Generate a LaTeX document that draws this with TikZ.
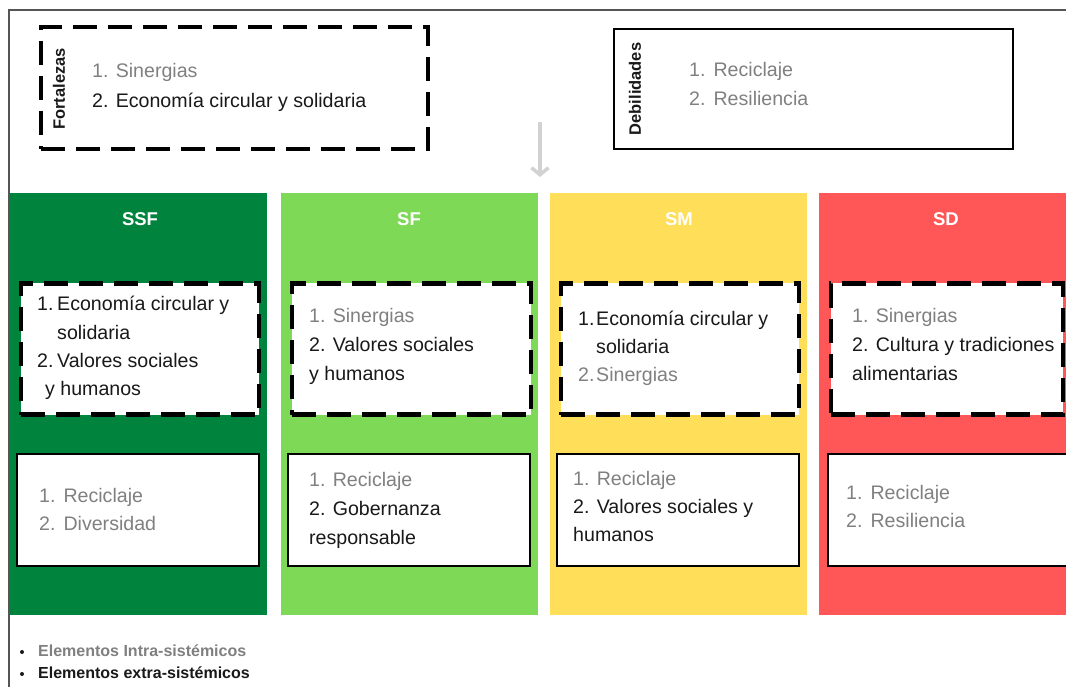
\documentclass[tikz,border=0pt]{standalone}
\usepackage{fontspec}
\setmainfont{Liberation Sans}
\usetikzlibrary{arrows.meta}
\definecolor{cSSF}{RGB}{0,132,61}
\definecolor{cSF}{RGB}{126,217,87}
\definecolor{cSM}{RGB}{255,222,89}
\definecolor{cSD}{RGB}{255,87,87}
\definecolor{intra}{RGB}{128,128,128}
\definecolor{extra}{RGB}{25,25,25}
\definecolor{framec}{RGB}{85,85,85}
\definecolor{arrowc}{RGB}{210,210,210}
\begin{document}
\begin{tikzpicture}[x=1pt,y=-1pt,
  txt/.style={anchor=base west, inner sep=0pt, font=\fontsize{19.6}{23}\selectfont},
  gr/.style={txt, text=intra},
  bk/.style={txt, text=extra},
  dbox/.style={draw=black, line width=4.5pt, dash pattern=on 24pt off 11pt, fill=white, inner sep=0pt},
  sbox/.style={draw=black, line width=2.5pt, fill=white, inner sep=0pt},
  col/.style={draw=none, inner sep=0pt, minimum width=257pt, minimum height=422pt},
  ttl/.style={text=white, font=\bfseries\fontsize{18.5}{22}\selectfont, inner sep=0pt},
  vlab/.style={rotate=90, font=\bfseries\fontsize{16.5}{18}\selectfont, inner sep=0pt, text=extra},
  leg/.style={anchor=base west, inner sep=0pt, font=\bfseries\fontsize{16}{18}\selectfont},
  bul/.style={circle, fill=extra, inner sep=0pt, minimum size=4pt},
  arrowst/.style={draw=arrowc, line width=4pt, -{Straight Barb[length=7pt,width=17pt,line width=3.5pt]}},
  ]
\useasboundingbox (0,0) rectangle (1066,687);
\begin{scope}
\clip (0,0) rectangle (1066,687);
\fill[white] (0,0) rectangle (1066,687);
% frame
\draw[framec, line width=1.3pt] (9,690) -- (9,10) -- (1070,10);

% top boxes
\node[dbox, minimum width=387pt, minimum height=122pt] (fort) at (234.5,88) {};
\node[vlab] (fortlab) at (59,89) {Fortalezas};
\node[gr] (f1) at (92,78) {1. Sinergias};
\node[bk] (f2) at (92,108) {2. Economía circular y solidaria};

\node[sbox, minimum width=399pt, minimum height=120pt] (deb) at (813.5,89) {};
\node[vlab] (deblab) at (635,89) {Debilidades};
\node[gr] (d1) at (689,77) {1.\hspace{8pt}Reciclaje};
\node[gr] (d2) at (689,106) {2.\hspace{8pt}Resiliencia};

% arrow
\coordinate (arrS) at (540,122);
\coordinate (arrE) at (540,177);
\draw[arrowst] (arrS) -- (arrE);

% columns
\node[col, fill=cSSF] (cssf) at (138.5,404) {};
\node[col, fill=cSF]  (csf)  at (409,404) {};
\node[col, fill=cSM]  (csm)  at (678.5,404) {};
\node[col, fill=cSD]  (csd)  at (947.5,404) {};
\node[ttl] (tssf) at (140,219) {SSF};
\node[ttl] (tsf)  at (409,219) {SF};
\node[ttl] (tsm)  at (679,219) {SM};
\node[ttl] (tsd)  at (946,219) {SD};

% dashed boxes in columns
\node[dbox, minimum width=238pt, minimum height=131pt] (dssf) at (140,349) {};
\node[dbox, minimum width=239pt, minimum height=131pt] (dsf)  at (411.5,349) {};
\node[dbox, minimum width=238pt, minimum height=131pt] (dsm)  at (680,349) {};
\node[dbox, minimum width=232pt, minimum height=131pt] (dsd)  at (947,349) {};

% solid boxes in columns
\node[sbox, minimum width=242pt, minimum height=112pt] (sssf) at (138,510) {};
\node[sbox, minimum width=242pt, minimum height=112pt] (ssf)  at (409,510) {};
\node[sbox, minimum width=242pt, minimum height=112pt] (ssm)  at (678,510) {};
\node[sbox, minimum width=242pt, minimum height=112pt] (ssd)  at (949,510) {};

% SSF texts
\node[bk] (a1) at (37,310) {\makebox[20pt][l]{1.}Economía circular y};
\node[bk] (a2) at (57,339) {solidaria};
\node[bk] (a3) at (37,367) {\makebox[20pt][l]{2.}Valores sociales};
\node[bk] (a4) at (45,395) {y humanos};
\node[gr] (a5) at (39,502) {1.\hspace{8pt}Reciclaje};
\node[gr] (a6) at (39,530) {2.\hspace{8pt}Diversidad};

% SF texts
\node[gr] (b1) at (309,323) {1. Sinergias};
\node[bk] (b2) at (309,351) {2. Valores sociales};
\node[bk] (b3) at (309,380) {y humanos};
\node[gr] (b4) at (309,486) {1. Reciclaje};
\node[bk] (b5) at (309,515) {2. Gobernanza};
\node[bk] (b6) at (309,544) {responsable};

% SM texts
\node[bk] (c1) at (578,325) {\makebox[18pt][l]{1.}Economía circular y};
\node[bk] (c2) at (596,353) {solidaria};
\node[gr] (c3) at (578,381) {\makebox[18pt][l]{2.}Sinergias};
\node[gr] (c4) at (573,485) {1. Reciclaje};
\node[bk] (c5) at (573,513) {2. Valores sociales y};
\node[bk] (c6) at (573,541) {humanos};

% SD texts
\node[gr] (e1) at (852,323) {1. Sinergias};
\node[bk] (e2) at (852,351) {2. Cultura y tradiciones};
\node[bk] (e3) at (852,380) {alimentarias};
\node[gr] (e4) at (846,499) {1.\hspace{8pt}Reciclaje};
\node[gr] (e5) at (846,527) {2.\hspace{8pt}Resiliencia};

% legend
\node[bul] (bul1) at (22,652) {};
\node[leg, text=intra] (l1) at (38,656) {Elementos Intra-sistémicos};
\node[bul] (bul2) at (22,674) {};
\node[leg, text=extra] (l2) at (38,678) {Elementos extra-sistémicos};
\end{scope}
\end{tikzpicture}
\end{document}
